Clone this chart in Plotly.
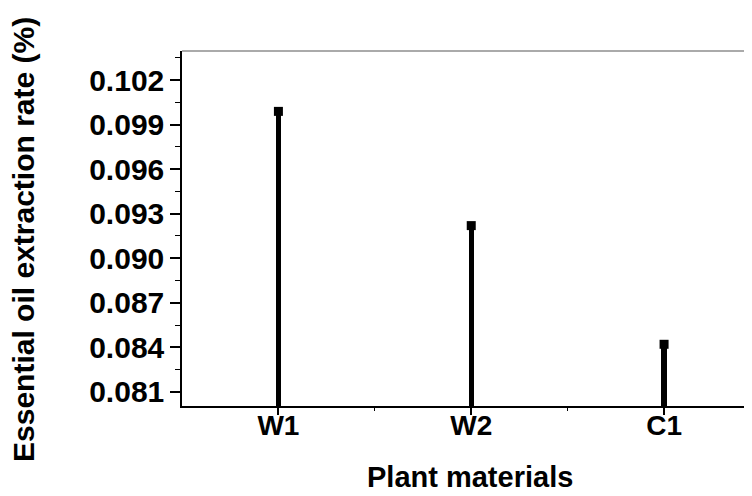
import plotly.graph_objects as go

categories = ["W1", "W2", "C1"]
values = [0.0999, 0.0922, 0.0842]
y_tick_vals = [0.081, 0.084, 0.087, 0.090, 0.093, 0.096, 0.099, 0.102]
y_minor_vals = [0.0825, 0.0855, 0.0885, 0.0915, 0.0945, 0.0975, 0.1005, 0.1035]
x_minor_vals = [0.5, 1.5]
x_title = "Plant materials"
y_title = "Essential oil extraction rate (%)"

xpos = list(range(len(categories)))
FONT = "Liberation Sans"

fig = go.Figure()
fig.add_trace(go.Bar(x=xpos, y=values, width=0.027, marker=dict(color="black", line=dict(width=0)),
                     showlegend=False, hoverinfo="skip"))
fig.add_trace(go.Scatter(x=xpos, y=values, mode="markers",
                         marker=dict(symbol="square", size=9, color="black"), showlegend=False))

# page body has an 8px default margin, so the figure is sized to fit the window
fig.update_layout(
    width=744, height=488,
    margin=dict(l=174, r=0, t=43, b=90),
    paper_bgcolor="white", plot_bgcolor="white",
    bargap=0,
    font=dict(family=FONT, color="black"),
    xaxis=dict(range=[-0.5, 2.456], tickmode="array", tickvals=xpos, ticktext=categories,
               showline=True, linecolor="black", linewidth=1.5,
               ticks="outside", ticklen=7, tickwidth=1.5, tickcolor="black",
               minor=dict(tickmode="array", tickvals=x_minor_vals, ticks="outside", ticklen=3,
                          tickwidth=1.2, tickcolor="black"),
               showgrid=False, zeroline=False, ticklabelstandoff=-13,
               tickfont=dict(size=28, family=FONT, weight="bold")),
    yaxis=dict(range=[0.08004, 0.10397], tickmode="array", tickvals=y_tick_vals,
               tickformat=".3f",
               showline=True, linecolor="black", linewidth=1.5,
               ticks="outside", ticklen=10, tickwidth=1.5, tickcolor="black",
               minor=dict(tickmode="array", tickvals=y_minor_vals,
                          ticks="outside", ticklen=5, tickwidth=1.2, tickcolor="black"),
               showgrid=False, zeroline=False,
               tickfont=dict(size=30, family=FONT, weight="bold")),
    shapes=[dict(type="line", xref="paper", yref="paper", x0=0, x1=1, y0=1, y1=1,
                 line=dict(color="#aaaaaa", width=2))],
    annotations=[
        dict(text=x_title, xref="paper", yref="paper", x=0.505, y=-0.2, xanchor="center",
             yanchor="middle", showarrow=False,
             font=dict(size=29, family=FONT, weight="bold")),
        dict(text=y_title, xref="paper", yref="paper", x=-0.277, y=0.468, xanchor="center",
             yanchor="middle", showarrow=False, textangle=-90,
             font=dict(size=30, family=FONT, weight="bold")),
    ],
)

fig.write_html("out.html")
